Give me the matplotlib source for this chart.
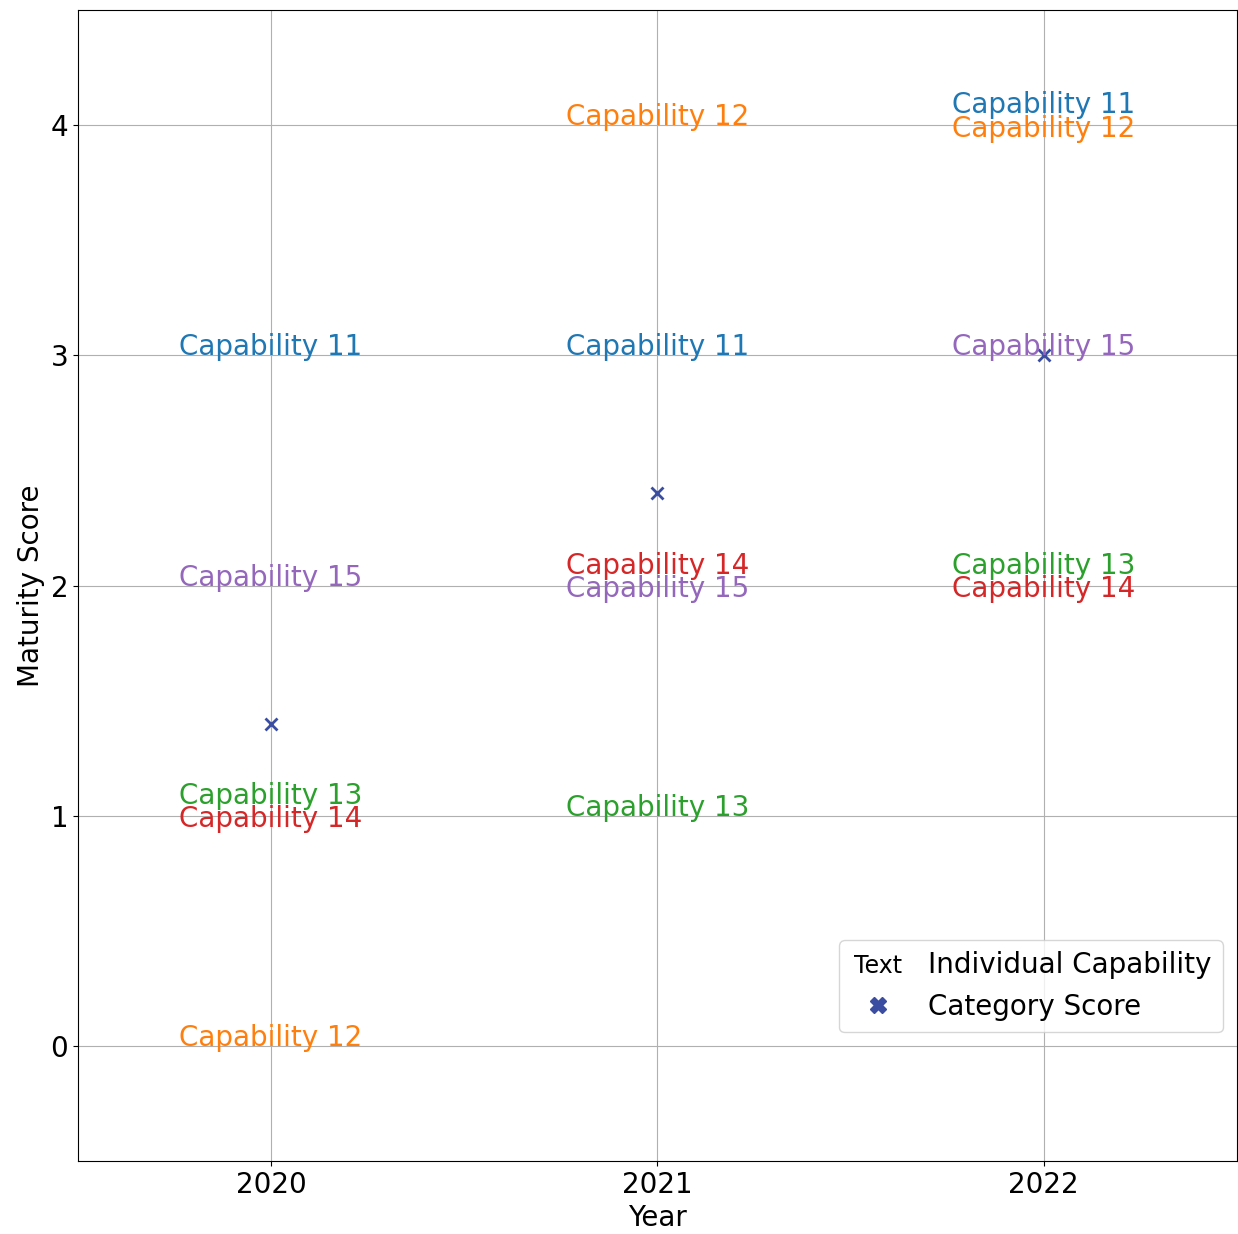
import matplotlib
matplotlib.use("Agg")
import matplotlib.pyplot as plt
import matplotlib.text as mtext
from matplotlib.legend_handler import HandlerBase
from matplotlib.lines import Line2D
import numpy as np

###########################################################
### -------------------- DATA ------------------------
###########################################################

years = [2020, 2021, 2022]
capabilities = ['Capability 11', 'Capability 12', 'Capability 13', 'Capability 14', 'Capability 15']
cap_colors = ['C0', 'C1', 'C2', 'C3', 'C4']

# maturity score per capability, one value per year
scores = {
    'Capability 11': [3, 3, 4],
    'Capability 12': [0, 4, 4],
    'Capability 13': [1, 1, 2],
    'Capability 14': [1, 2, 2],
    'Capability 15': [2, 2, 3],
}

category_score = [1.4, 2.4, 3.0]
score_color = '#3b4da0'

nudge = 0.05  # spread for labels that share a score in the same year


class TextHandler(HandlerBase):
    # draws the word "Text" as the legend handle, on the label baseline
    def create_artists(self, legend, orig_handle, xdescent, ydescent, width, height, fontsize, trans):
        t = mtext.Text(-xdescent + width / 2, -ydescent, 'Text',
                       ha='center', va='baseline', fontsize=fontsize * 0.85,
                       color='k', transform=trans)
        return [t]


fig, ax = plt.subplots(figsize=(12.38, 12.34), dpi=100)
plt.subplots_adjust(left=0.063, right=0.999, top=0.992, bottom=0.059)

for j, year in enumerate(years):
    vals = [scores[c][j] for c in capabilities]
    for i, cap in enumerate(capabilities):
        v = vals[i]
        same = [k for k in range(len(capabilities)) if vals[k] == v]
        y = v
        if len(same) > 1:
            pos = same.index(i)
            y = v + nudge * (len(same) - 1) - 2 * nudge * pos
        ax.text(year, y, cap, ha='center', va='baseline', fontsize=20, color=cap_colors[i])

ax.plot(years, category_score, linestyle='none', marker='x', markersize=9,
        markeredgewidth=2, color=score_color)

ax.set_xlim(2019.5, 2022.5)
ax.set_ylim(-0.5, 4.5)
ax.set_xticks(years)
ax.set_yticks([0, 1, 2, 3, 4])
ax.tick_params(axis='both', labelsize=20)
ax.set_xlabel('Year', fontsize=20)
ax.set_ylabel('Maturity Score', fontsize=20)
ax.grid(True)

text_handle = object()
x_handle = Line2D([], [], linestyle='none', marker='X', markersize=12, color=score_color)
ax.legend([text_handle, x_handle], ['Individual Capability', 'Category Score'],
          handler_map={object: TextHandler()}, loc='lower right',
          bbox_to_anchor=(1, 0.1), fontsize=20)

plt.savefig('out.png', dpi=100)
